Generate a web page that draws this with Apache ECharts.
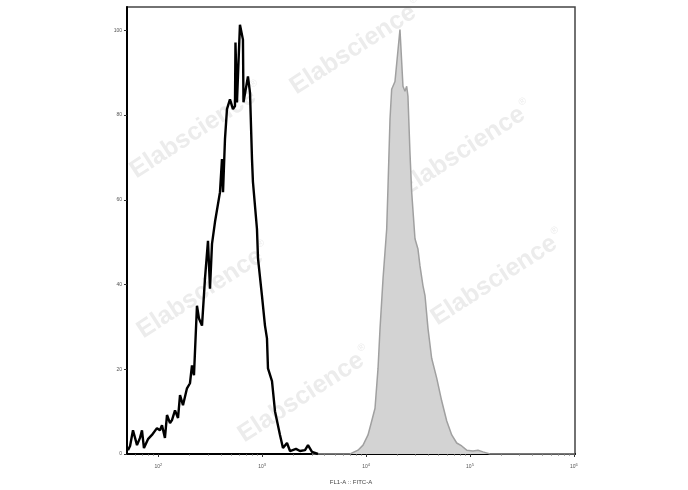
<!DOCTYPE html>
<html>
<head>
<meta charset="utf-8">
<script src="https://cdn.jsdelivr.net/npm/echarts@6/dist/echarts.min.js"></script>
<style>html,body{margin:0;padding:0;background:#fff}#c{width:688px;height:490px}</style>
</head>
<body>
<div id="c"></div>
<script>
// Unstained / isotype (black outline) histogram
const blackX = [51.1,53.5,57.1,62.4,66.7,69.7,72.8,79.6,86.9,97.1,103.8,108.6,115.9,121.3,129.7,135.5,144.9,154.9,161.9,172.9,188.9,201.9,211,220.6,235.7,246.5,263.6,281.5,300.9,314.6,328.9,351.6,392.6,410.3,419.8,438.5,458.3,489.7,523.4,547.2,553.4,571.8,611,653,660.7,729.6,763.6,798,815,891,912,995,1064,1112,1137,1243,1328,1484,1585,1733,1853,2115,2312,2584,2761,3016,3443];
const blackY = [0.9,1.9,5.6,2.1,3.8,5.6,1.4,3.5,4.5,6.1,5.6,6.8,3.8,9.2,7.3,8.0,10.3,8.5,13.9,11.5,15.5,16.7,20.9,18.6,35.0,32.0,30.3,41.4,50.3,39.0,49.6,54.8,61.8,69.6,61.8,74.3,81.4,83.7,81.4,82.1,97.1,83.0,101.3,97.8,83.0,89.1,85.3,69.6,64.2,53.1,46.1,37.4,30.3,27.3,20.2,17.2,10.1,4.5,1.4,2.6,0.7,1.2,0.7,0.9,2.1,0.5,0];
// Stained (gray filled) histogram
const grayX = [3014,6998,8360,9350,10440,11330,12190,13030,13620,14560,15790,16260,16990,17630,18970,21190,22650,23670,24590,25290,26440,27470,29560,31560,33020,35300,36900,39450,42770,47840,53460,59740,66730,74530,83250,92990,106900,119400,133400,155700,1020000];
const grayY = [0,0,0.9,2.1,4.5,7.8,10.8,20.2,29.6,41.4,53.1,63.2,79.0,86.1,87.9,100.2,86.8,85.6,86.8,84.4,71.2,61.8,50.8,48.4,44.4,39.7,37.4,29.6,22.6,17.9,12.5,7.8,4.5,2.6,1.9,0.9,0.7,0.9,0.5,0,0];
// Axis ticks
const xMajor = [100,1000,10000,100000,1000000];
const xMinor = [60,70,80,90,200,300,400,500,600,700,800,900,2000,3000,4000,5000,6000,7000,8000,9000,20000,30000,40000,50000,60000,70000,80000,90000,200000,300000,400000,500000,600000,700000,800000,900000];
const yTicks = [0,20,40,60,80,100];
const xTitle = 'FL1-A :: FITC-A';
const watermark = 'Elabscience';

const chart = echarts.init(document.getElementById('c'), null, {renderer:'canvas'});
const zip = (a,b)=>a.map((v,i)=>[v,b[i]]);
const wmPos = [[197,131],[357,47],[466,149],[204,291],[498,278],[305,395]];
const font = 'Liberation Sans, Arial, sans-serif';

chart.setOption({
  animation:false,
  backgroundColor:'#fff',
  grid:{left:127,right:113,top:7,bottom:34,show:true,borderColor:'#444',borderWidth:1.5,backgroundColor:'transparent'},
  xAxis:[{
    type:'log',logBase:10,min:50,max:1025000,
    name:xTitle,nameLocation:'middle',nameGap:25,
    nameTextStyle:{fontSize:6,color:'#444',fontFamily:font},
    axisLine:{show:true,lineStyle:{color:'#000',width:2}},
    axisTick:{show:true,length:3,inside:false,customValues:xMajor,lineStyle:{color:'#333',width:1}},
    axisLabel:{customValues:xMajor,margin:9,fontFamily:font,
      formatter:v=>'{b|10}{s|'+Math.round(Math.log10(v))+'}',
      rich:{b:{fontSize:5,color:'#555',fontFamily:font},s:{fontSize:4,color:'#555',padding:[0,0,4,0],fontFamily:font}}},
    splitLine:{show:false},minorTick:{show:false},minorSplitLine:{show:false}
  },{
    type:'log',logBase:10,min:50,max:1025000,position:'bottom',
    axisLine:{show:false},
    axisTick:{show:true,length:1.5,customValues:xMinor,lineStyle:{color:'#555',width:1}},
    axisLabel:{show:false},splitLine:{show:false}
  }],
  yAxis:{
    type:'value',min:0,max:105.5,
    axisLine:{show:true,lineStyle:{color:'#000',width:2}},
    axisTick:{show:true,length:3,customValues:yTicks,lineStyle:{color:'#333',width:1}},
    axisLabel:{customValues:yTicks,fontSize:5,color:'#555',margin:5,fontFamily:font},
    splitLine:{show:false}
  },
  graphic:wmPos.map(p=>({
    type:'text',x:p[0],y:p[1],rotation:0.575,z:-10,silent:true,
    style:{text:watermark+'{r|®}',fontSize:25,fontWeight:'bold',fontFamily:font,fill:'#ececec',
      align:'center',verticalAlign:'middle',
      rich:{r:{fontSize:10,fill:'#ececec',padding:[0,0,18,2]}}}
  })),
  series:[{
    type:'line',data:zip(grayX,grayY),xAxisIndex:0,showSymbol:false,
    lineStyle:{color:'#a0a0a0',width:1.5},areaStyle:{color:'#d3d3d3',opacity:1},z:2
  },{
    type:'line',data:zip(blackX,blackY),xAxisIndex:0,showSymbol:false,
    lineStyle:{color:'#000',width:2.4},z:3
  }]
});
</script>
</body>
</html>
